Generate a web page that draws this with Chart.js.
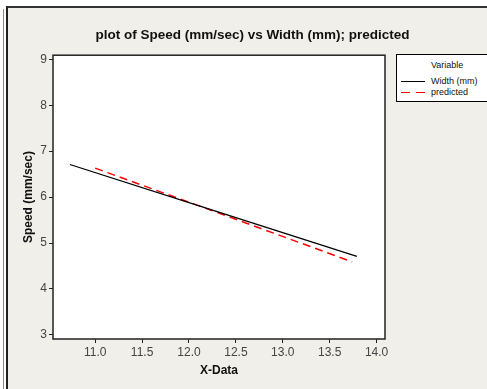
<!DOCTYPE html>
<html>
<head>
<meta charset="utf-8">
<script src="https://cdn.jsdelivr.net/npm/chart.js@4.4.1/dist/chart.umd.min.js"></script>
<style>
  html, body { margin: 0; padding: 0; background: #fff; }
  #wrap { position: relative; width: 487px; height: 389px; overflow: hidden; font-family: "Liberation Sans", Arial, sans-serif; }
  #strip { position: absolute; left: 3px; top: 9px; width: 1px; height: 380px; background: #8a8a8a; }
  #frame { position: absolute; left: 6px; top: 6px; right: -4px; bottom: -4px; background: #f1efe9; border-left: 2px solid #222; border-top: 2px solid #333; }
  #chart { position: absolute; left: 0; top: 0; }
  #legend { position: absolute; left: 396px; top: 54px; width: 96px; height: 46px; background: #fff; border: 1px solid #000; font-size: 9px; color: #111; }
  #legend .row { position: absolute; left: 4px; height: 11px; line-height: 11px; white-space: nowrap; }
  #legend .sample { display: inline-block; width: 24px; height: 1.5px; vertical-align: middle; margin-right: 6px; }
</style>
</head>
<body>
<div id="wrap">
  <div id="strip"></div>
  <div id="frame"></div>
  <canvas id="chart" width="487" height="389"></canvas>
  <div id="legend"></div>
</div>
<script>
const chartTitle = 'plot of Speed (mm/sec) vs Width (mm); predicted'
const xTitle = 'X-Data'
const yTitle = 'Speed (mm/sec)'
const xTicks = [11.0, 11.5, 12.0, 12.5, 13.0, 13.5, 14.0]
const yTicks = [3, 4, 5, 6, 7, 8, 9]

// Width (mm) line
const widthX = [10.73, 12.2, 13.79]
const widthY = [6.71, 5.75, 4.71]
// predicted line
const predX = [11.0, 12.2, 13.74]
const predY = [6.63, 5.74, 4.59]

const legendTitle = 'Variable'
const seriesNames = ['Width (mm)', 'predicted']

function pairs(xs, ys) {
    return xs.map((x, i) => ({ x: x, y: ys[i] }))
}

// white plot area with a dark box around it
const plotBox = {
    id: 'plotBox',
    beforeDatasetsDraw(chart) {
        const a = chart.chartArea
        const ctx = chart.ctx
        ctx.save()
        ctx.fillStyle = '#fff'
        ctx.fillRect(a.left, a.top, a.right - a.left, a.bottom - a.top)
        ctx.restore()
    },
    afterDatasetsDraw(chart) {
        const a = chart.chartArea
        const ctx = chart.ctx
        ctx.save()
        ctx.strokeStyle = '#222'
        ctx.lineWidth = 1.5
        ctx.strokeRect(a.left, a.top, a.right - a.left, a.bottom - a.top)
        ctx.restore()
    }
}

const tickFont = { family: 'Liberation Sans', size: 12 }
const titleFont = { family: 'Liberation Sans', size: 12, weight: 'bold' }

const chart = new Chart(document.querySelector('#chart'), {
    type: 'line',
    data: {
        datasets: [
            {
                label: seriesNames[0],
                data: pairs(widthX, widthY),
                borderColor: '#000',
                borderWidth: 1.3,
                pointRadius: 0,
                tension: 0
            },
            {
                label: seriesNames[1],
                data: pairs(predX, predY),
                borderColor: '#ff0000',
                borderWidth: 1.5,
                borderDash: [8, 5],
                pointRadius: 0,
                tension: 0
            }
        ]
    },
    options: {
        responsive: false,
        animation: false,
        layout: { padding: { left: 18, right: 0, top: 0, bottom: 0 } },
        plugins: {
            legend: { display: false },
            tooltip: { enabled: false },
            title: {
                display: true,
                text: chartTitle,
                color: '#111',
                font: { family: 'Liberation Sans', size: 13.5, weight: 'bold' },
                padding: { top: 27, bottom: 12 }
            }
        },
        scales: {
            x: {
                type: 'linear',
                min: 10.55,
                max: 14.09,
                afterBuildTicks: s => { s.ticks = xTicks.map(v => ({ value: v })) },
                afterFit: s => { s.height = 50 },
                ticks: {
                    color: '#444',
                    font: tickFont,
                    padding: 2,
                    maxRotation: 0,
                    callback: v => Number(v).toFixed(1)
                },
                grid: { drawOnChartArea: false, drawTicks: true, tickLength: 4, color: '#222' },
                border: { display: false },
                title: { display: true, text: xTitle, color: '#111', font: titleFont, padding: { top: 0, bottom: 11 } }
            },
            y: {
                type: 'linear',
                min: 2.91,
                max: 9.09,
                afterBuildTicks: s => { s.ticks = yTicks.map(v => ({ value: v })) },
                afterFit: s => { s.width = 35 },
                ticks: { color: '#444', font: tickFont, padding: 2 },
                grid: { drawOnChartArea: false, drawTicks: true, tickLength: 4, color: '#222' },
                border: { display: false },
                title: { display: true, text: yTitle, color: '#111', font: titleFont, padding: { top: 3, bottom: 0 } }
            },
            // empty right-hand scale that reserves room for the legend
            yRight: {
                type: 'linear',
                position: 'right',
                afterFit: s => { s.width = 102 },
                ticks: { display: false },
                grid: { display: false },
                border: { display: false }
            }
        }
    },
    plugins: [plotBox]
})

// legend as html, using the dataset styles
const legend = document.querySelector('#legend')
const head = document.createElement('div')
head.className = 'row'
head.style.left = '34px'
head.style.top = '5px'
head.textContent = legendTitle
legend.appendChild(head)
chart.data.datasets.forEach((ds, i) => {
    const row = document.createElement('div')
    row.className = 'row'
    row.style.top = (21 + i * 11) + 'px'
    const sample = document.createElement('span')
    sample.className = 'sample'
    sample.style.background = ds.borderDash
        ? 'repeating-linear-gradient(to right, ' + ds.borderColor + ' 0 9px, transparent 9px 15px)'
        : ds.borderColor
    row.appendChild(sample)
    row.appendChild(document.createTextNode(ds.label))
    legend.appendChild(row)
})
</script>
</body>
</html>
